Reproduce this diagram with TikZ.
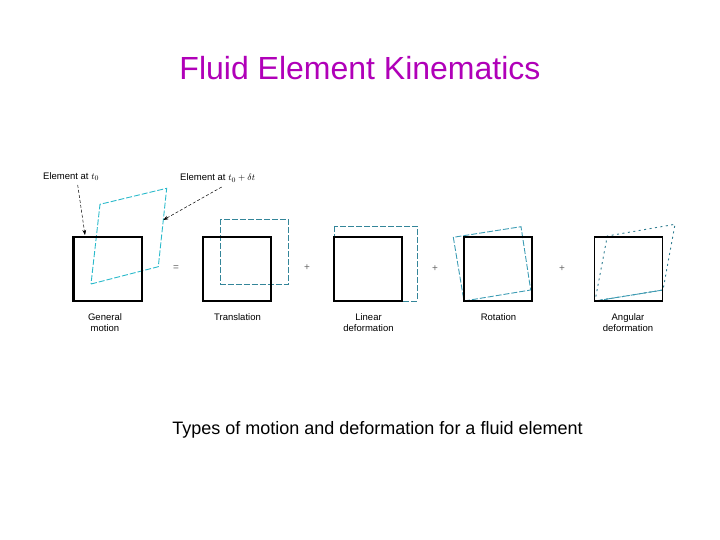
\documentclass[tikz,border=0pt]{standalone}
\usepackage{fontspec}
\setmainfont{Liberation Sans}
\usepackage{tikz}
\usetikzlibrary{arrows.meta}
\definecolor{kinTitlePurple}{HTML}{B000B8}
\definecolor{kinDashBlue}{HTML}{3C9CB4}
\tikzset{
    sqbox/.style={draw=black, line width=1.1pt, minimum width=68pt, minimum height=64pt, inner sep=0pt},
    dashbox/.style={draw=kinDashBlue, line width=0.9pt, dash pattern=on 6pt off 2pt},
    dotbox/.style={draw=kinDashBlue!80!black, line width=0.9pt, dash pattern=on 2pt off 3.5pt},
    oplabel/.style={font=\fontsize{10}{12}\selectfont, text=black!60},
    caplabel/.style={align=center, font=\fontsize{9.5}{11.5}\selectfont, inner sep=0pt},
    ptrline/.style={-{Stealth[length=1.8mm, width=1.3mm]}, densely dashed, line width=0.5pt}
}
\begin{document}
\begin{tikzpicture}[x=1pt, y=-1pt]
            \useasboundingbox (0,0) rectangle (720,540);
            \node[text=kinTitlePurple, font=\fontsize{32}{36}\selectfont] (title) at (360,68) {Fluid Element Kinematics};
            \node[font=\fontsize{18}{22}\selectfont] (caption) at (377.5,430) {Types of motion and deformation for a fluid element};
            % moved element
            \draw[dashbox, draw=kinDashBlue!70!cyan] (91,284) -- (158.3,266.7) -- (166.7,188.3) -- (100,204.3) -- cycle;
            \draw[dashbox, draw=kinDashBlue!85!black] (220.7,219.3) rectangle (288.3,284.3);
            \draw[dashbox, draw=kinDashBlue!85!black] (334,226) rectangle (417,301);
            \draw[dashbox] (464,301) -- (530.7,290) -- (521,226.7) -- (453.3,237.3) -- cycle;
            \draw[dotbox] (595,301) -- (663,290) -- (675,224.3) -- (607.3,236) -- cycle;
            \draw[dashbox, dash pattern=on 8pt off 1pt] (595,301) -- (663,290);
            % squares
            \node[sqbox] (gm) at (108,269) {};
            \node[sqbox] (tr) at (237,269) {};
            \node[sqbox] (ld) at (368,269) {};
            \node[sqbox] (ro) at (498,269) {};
            \node[sqbox] (ad) at (628.5,269) {};
            \draw[line width=2pt] (gm.south west) -- (gm.north west);
            % operators
            \node[oplabel] (eq) at (176,268) {=};
            \node[oplabel] (p1) at (307,268) {+};
            \node[oplabel] (p2) at (435,269) {+};
            \node[oplabel] (p3) at (562,269) {+};
            % labels
            \node[caplabel] (lgm) at (105,322.5) {General\\motion};
            \node[caplabel] (ltr) at (237.5,316.7) {Translation};
            \node[caplabel] (lld) at (368.5,322.5) {Linear\\deformation};
            \node[caplabel] (lro) at (498.5,316.7) {Rotation};
            \node[caplabel] (lad) at (628,322.5) {Angular\\deformation};
            \node[caplabel, anchor=west] (e0) at (43,176.5) {Element at $t_0$};
            \node[caplabel, anchor=west] (e1) at (180,178) {Element at $t_0+\delta t$};
            \coordinate (s0) at (77.7,185);
            \coordinate (s1) at (221.7,187);
            \coordinate (c0) at (85,235);
            \coordinate (c1) at (163.3,220);
            \draw[ptrline] (s0) -- (c0);
            \draw[ptrline] (s1) -- (c1);
        \end{tikzpicture}
\end{document}
